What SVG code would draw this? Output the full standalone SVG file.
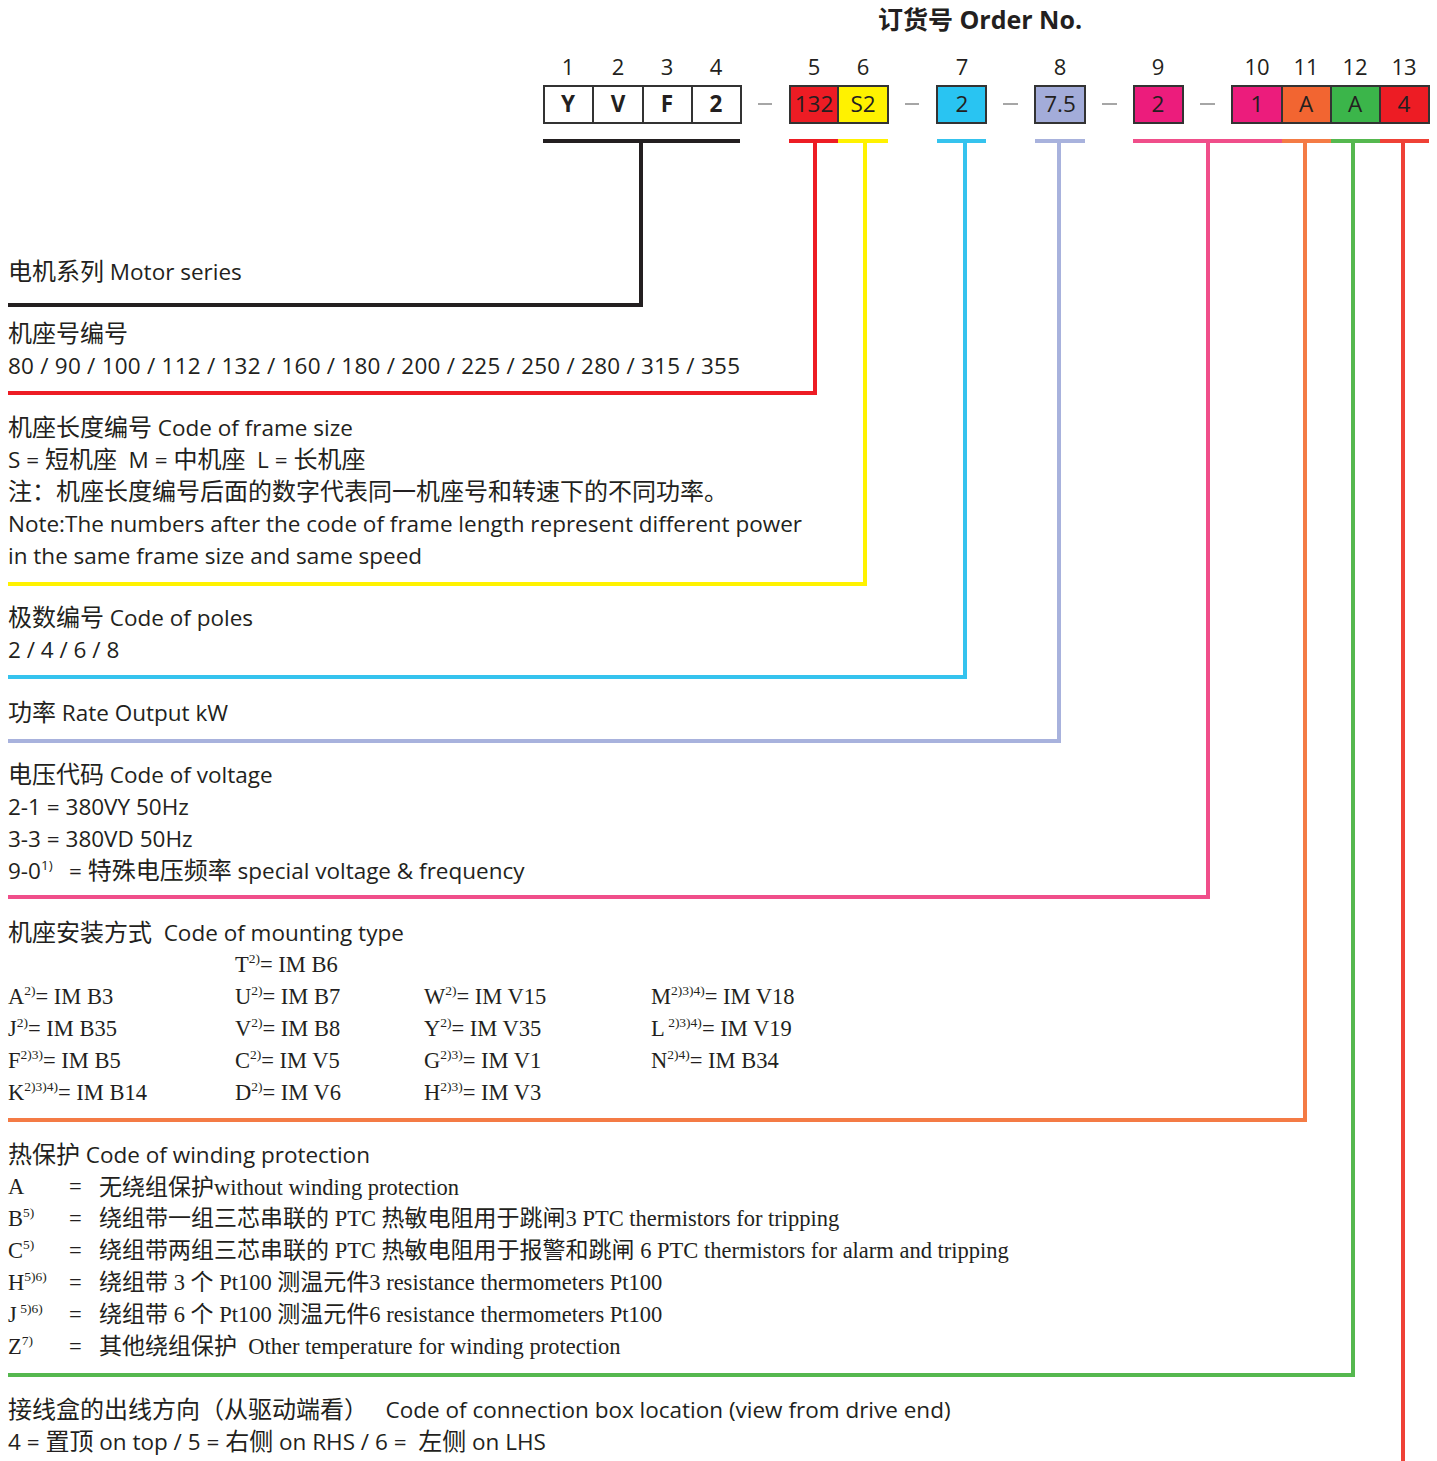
<svg xmlns="http://www.w3.org/2000/svg" width="1437" height="1461" viewBox="0 0 1437 1461">
<style>
.s{font-family:"Open Sans","Noto Sans CJK SC",sans-serif;font-size:22.5px;fill:#231f20}
.r{font-family:"Liberation Serif","Noto Sans CJK SC",serif;font-size:22.5px;fill:#231f20}
.c{font-family:"Noto Sans CJK SC",sans-serif;font-size:24px}
.rc{font-family:"Noto Sans CJK SC",sans-serif;font-size:23px}
.sup{font-size:13.5px}
.num{font-family:"Open Sans",sans-serif;font-size:22px;fill:#231f20;text-anchor:middle}
.bx{stroke:#333;stroke-width:2}
.bt{font-family:"Open Sans",sans-serif;font-size:22.5px;fill:#231f20;text-anchor:middle}
.b{font-weight:bold}
.dash{stroke:#888;stroke-width:1.5}
.ln{fill:none;stroke-width:4;stroke-linejoin:miter}
</style>
<rect width="1437" height="1461" fill="#fff"/>
<text x="980" y="29" text-anchor="middle" style="font-family:'Open Sans','Noto Sans CJK SC',sans-serif;font-size:25px;font-weight:bold;fill:#231f20">订货号 Order No.</text>

<g id="positions">
<text class="num" x="568" y="75">1</text>
<text class="num" x="618" y="75">2</text>
<text class="num" x="667" y="75">3</text>
<text class="num" x="716" y="75">4</text>
<text class="num" x="814" y="75">5</text>
<text class="num" x="863" y="75">6</text>
<text class="num" x="962" y="75">7</text>
<text class="num" x="1060" y="75">8</text>
<text class="num" x="1158" y="75">9</text>
<text class="num" x="1257" y="75">10</text>
<text class="num" x="1306" y="75">11</text>
<text class="num" x="1355" y="75">12</text>
<text class="num" x="1404" y="75">13</text>
</g>

<g id="box1"><rect class="bx" x="544" y="86" width="49" height="37" fill="#fff"/><text class="bt b" x="568" y="112">Y</text></g>
<g id="box2"><rect class="bx" x="593" y="86" width="50" height="37" fill="#fff"/><text class="bt b" x="618" y="112">V</text></g>
<g id="box3"><rect class="bx" x="643" y="86" width="49" height="37" fill="#fff"/><text class="bt b" x="667" y="112">F</text></g>
<g id="box4"><rect class="bx" x="692" y="86" width="49" height="37" fill="#fff"/><text class="bt b" x="716" y="112">2</text></g>
<g id="box5"><rect class="bx" x="790" y="86" width="48" height="37" fill="#ed1c24"/><text class="bt" x="814" y="112">132</text></g>
<g id="box6"><rect class="bx" x="838" y="86" width="50" height="37" fill="#fff200"/><text class="bt" x="863" y="112">S2</text></g>
<g id="box7"><rect class="bx" x="937" y="86" width="49" height="37" fill="#29c4f2"/><text class="bt" x="962" y="112">2</text></g>
<g id="box8"><rect class="bx" x="1035" y="86" width="50" height="37" fill="#a3acd9"/><text class="bt" x="1060" y="112">7.5</text></g>
<g id="box9"><rect class="bx" x="1134" y="86" width="49" height="37" fill="#ec1c7c"/><text class="bt" x="1158" y="112">2</text></g>
<g id="box10"><rect class="bx" x="1232" y="86" width="50" height="37" fill="#ec1c7c"/><text class="bt" x="1257" y="112">1</text></g>
<g id="box11"><rect class="bx" x="1282" y="86" width="49" height="37" fill="#f26531"/><text class="bt" x="1306" y="112">A</text></g>
<g id="box12"><rect class="bx" x="1331" y="86" width="49" height="37" fill="#3bb54a"/><text class="bt" x="1355" y="112">A</text></g>
<g id="box13"><rect class="bx" x="1380" y="86" width="49" height="37" fill="#ed1c24"/><text class="bt" x="1404" y="112">4</text></g>

<g id="dashes">
<line class="dash" x1="758" y1="104" x2="772" y2="104"/>
<line class="dash" x1="905" y1="104" x2="919" y2="104"/>
<line class="dash" x1="1003" y1="104" x2="1018" y2="104"/>
<line class="dash" x1="1102" y1="104" x2="1117" y2="104"/>
<line class="dash" x1="1200" y1="104" x2="1215" y2="104"/>
</g>

<g id="connectors">
<line class="ln" stroke="#231f20" x1="543" y1="141" x2="740" y2="141"/>
<polyline class="ln" stroke="#231f20" points="641,141 641,305 8,305"/>
<line class="ln" stroke="#ed1c24" x1="789" y1="141" x2="838" y2="141"/>
<polyline class="ln" stroke="#ed1c24" points="815,141 815,393 8,393"/>
<line class="ln" stroke="#fff200" x1="838" y1="141" x2="888" y2="141"/>
<polyline class="ln" stroke="#fff200" points="865,141 865,584 8,584"/>
<line class="ln" stroke="#35c3ee" x1="937" y1="141" x2="986" y2="141"/>
<polyline class="ln" stroke="#35c3ee" points="965,141 965,677 8,677"/>
<line class="ln" stroke="#a8b2dd" x1="1035" y1="141" x2="1085" y2="141"/>
<polyline class="ln" stroke="#a8b2dd" points="1059,141 1059,741 8,741"/>
<line class="ln" stroke="#f04e8a" x1="1133" y1="141" x2="1282" y2="141"/>
<polyline class="ln" stroke="#f04e8a" points="1208,141 1208,897 8,897"/>
<line class="ln" stroke="#f47b45" x1="1282" y1="141" x2="1331" y2="141"/>
<polyline class="ln" stroke="#f47b45" points="1305,141 1305,1120 8,1120"/>
<line class="ln" stroke="#55b84f" x1="1331" y1="141" x2="1380" y2="141"/>
<polyline class="ln" stroke="#55b84f" points="1353,141 1353,1375 8,1375"/>
<line class="ln" stroke="#ef4136" x1="1380" y1="141" x2="1429" y2="141"/>
<polyline class="ln" stroke="#ef4136" points="1403,141 1403,1461"/>
</g>

<g id="motor-series"><text class="s" x="8" y="280"><tspan class="c">电机系列</tspan> Motor series</text></g>
<g id="frame-no">
<text class="s" x="8" y="342"><tspan class="c">机座号编号</tspan></text>
<text class="s" x="8" y="374" textLength="732">80 / 90 / 100 / 112 / 132 / 160 / 180 / 200 / 225 / 250 / 280 / 315 / 355</text>
</g>
<g id="frame-size">
<text class="s" x="8" y="436"><tspan class="c">机座长度编号</tspan> Code of frame size</text>
<text class="s" x="8" y="468" xml:space="preserve">S = <tspan class="c">短机座</tspan>  M = <tspan class="c">中机座</tspan>  L = <tspan class="c">长机座</tspan></text>
<text class="s" x="8" y="500"><tspan class="c">注：机座长度编号后面的数字代表同一机座号和转速下的不同功率。</tspan></text>
<text class="s" x="8" y="532" textLength="794">Note:The numbers after the code of frame length represent different power</text>
<text class="s" x="8" y="564">in the same frame size and same speed</text>
</g>
<g id="poles">
<text class="s" x="8" y="626"><tspan class="c">极数编号</tspan> Code of poles</text>
<text class="s" x="8" y="658">2 / 4 / 6 / 8</text>
</g>
<g id="output"><text class="s" x="8" y="721"><tspan class="c">功率</tspan> Rate Output kW</text></g>
<g id="voltage">
<text class="s" x="8" y="783"><tspan class="c">电压代码</tspan> Code of voltage</text>
<text class="s" x="8" y="815">2-1 = 380VY 50Hz</text>
<text class="s" x="8" y="847">3-3 = 380VD 50Hz</text>
<text class="s" x="8" y="879">9-0<tspan class="sup" dy="-9">1)</tspan><tspan x="69" dy="9">= </tspan><tspan class="c">特殊电压频率</tspan> special voltage &amp; frequency</text>
</g>
<g id="mounting">
<text class="s" x="8" y="941" xml:space="preserve"><tspan class="c">机座安装方式</tspan>  Code of mounting type</text>
<text class="r" x="235" y="972">T<tspan class="sup" dy="-9">2)</tspan><tspan dy="9">= IM B6</tspan></text>
<text class="r" x="8" y="1004">A<tspan class="sup" dy="-9">2)</tspan><tspan dy="9">= IM B3</tspan></text>
<text class="r" x="8" y="1036">J<tspan class="sup" dy="-9">2)</tspan><tspan dy="9">= IM B35</tspan></text>
<text class="r" x="8" y="1068">F<tspan class="sup" dy="-9">2)3)</tspan><tspan dy="9">= IM B5</tspan></text>
<text class="r" x="8" y="1100">K<tspan class="sup" dy="-9">2)3)4)</tspan><tspan dy="9">= IM B14</tspan></text>
<text class="r" x="235" y="1004">U<tspan class="sup" dy="-9">2)</tspan><tspan dy="9">= IM B7</tspan></text>
<text class="r" x="235" y="1036">V<tspan class="sup" dy="-9">2)</tspan><tspan dy="9">= IM B8</tspan></text>
<text class="r" x="235" y="1068">C<tspan class="sup" dy="-9">2)</tspan><tspan dy="9">= IM V5</tspan></text>
<text class="r" x="235" y="1100">D<tspan class="sup" dy="-9">2)</tspan><tspan dy="9">= IM V6</tspan></text>
<text class="r" x="424" y="1004">W<tspan class="sup" dy="-9">2)</tspan><tspan dy="9">= IM V15</tspan></text>
<text class="r" x="424" y="1036">Y<tspan class="sup" dy="-9">2)</tspan><tspan dy="9">= IM V35</tspan></text>
<text class="r" x="424" y="1068">G<tspan class="sup" dy="-9">2)3)</tspan><tspan dy="9">= IM V1</tspan></text>
<text class="r" x="424" y="1100">H<tspan class="sup" dy="-9">2)3)</tspan><tspan dy="9">= IM V3</tspan></text>
<text class="r" x="651" y="1004">M<tspan class="sup" dy="-9">2)3)4)</tspan><tspan dy="9">= IM V18</tspan></text>
<text class="r" x="651" y="1036">L<tspan class="sup" dy="-9"> 2)3)4)</tspan><tspan dy="9">= IM V19</tspan></text>
<text class="r" x="651" y="1068">N<tspan class="sup" dy="-9">2)4)</tspan><tspan dy="9">= IM B34</tspan></text>
</g>
<g id="winding">
<text class="s" x="8" y="1163"><tspan class="c">热保护</tspan> Code of winding protection</text>
<text class="r" x="8" y="1194">A</text>
<text class="r" x="8" y="1226">B<tspan class="sup" dy="-9">5)</tspan></text>
<text class="r" x="8" y="1258">C<tspan class="sup" dy="-9">5)</tspan></text>
<text class="r" x="8" y="1290">H<tspan class="sup" dy="-9">5)6)</tspan></text>
<text class="r" x="8" y="1322">J<tspan class="sup" dy="-9"> 5)6)</tspan></text>
<text class="r" x="8" y="1354">Z<tspan class="sup" dy="-9">7)</tspan></text>
<text class="r" x="69" y="1194">=</text>
<text class="r" x="69" y="1226">=</text>
<text class="r" x="69" y="1258">=</text>
<text class="r" x="69" y="1290">=</text>
<text class="r" x="69" y="1322">=</text>
<text class="r" x="69" y="1354">=</text>
<text class="r" x="99" y="1195"><tspan class="rc">无绕组保护</tspan>without winding protection</text>
<text class="r" x="99" y="1226"><tspan class="rc">绕组带一组三芯串联的</tspan> PTC <tspan class="rc">热敏电阻用于跳闸</tspan>3 PTC thermistors for tripping</text>
<text class="r" x="99" y="1258"><tspan class="rc">绕组带两组三芯串联的</tspan> PTC <tspan class="rc">热敏电阻用于报警和跳闸</tspan> 6 PTC thermistors for alarm and tripping</text>
<text class="r" x="99" y="1290"><tspan class="rc">绕组带</tspan> 3 <tspan class="rc">个</tspan> Pt100 <tspan class="rc">测温元件</tspan>3 resistance thermometers Pt100</text>
<text class="r" x="99" y="1322"><tspan class="rc">绕组带</tspan> 6 <tspan class="rc">个</tspan> Pt100 <tspan class="rc">测温元件</tspan>6 resistance thermometers Pt100</text>
<text class="r" x="99" y="1354" xml:space="preserve"><tspan class="rc">其他绕组保护</tspan>  Other temperature for winding protection</text>
</g>
<g id="connection-box">
<text class="s" x="8" y="1418" xml:space="preserve"><tspan class="c">接线盒的出线方向（从驱动端看）</tspan>   Code of connection box location (view from drive end)</text>
<text class="s" x="8" y="1450" xml:space="preserve">4 = <tspan class="c">置顶</tspan> on top / 5 = <tspan class="c">右侧</tspan> on RHS / 6 =  <tspan class="c">左侧</tspan> on LHS</text>
</g>
</svg>
